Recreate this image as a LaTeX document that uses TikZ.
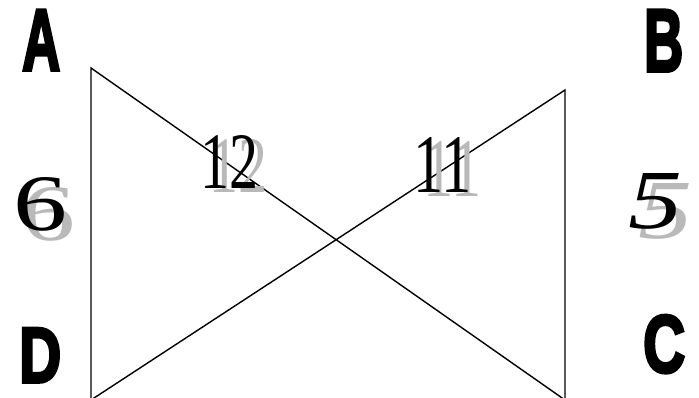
\documentclass[tikz,border=0pt]{standalone}
\usepackage{fontspec}
\setmainfont{Liberation Serif}
\newfontfamily\heavy[FakeBold=4]{Liberation Sans Bold}
\newfontfamily\numfont{Liberation Serif}
\begin{document}
\begin{tikzpicture}[x=1pt,y=-1pt,
  edge/.style={line width=1.4pt,black},
  letter/.style={inner sep=0pt,anchor=north west,font=\heavy},
  num/.style={inner sep=0pt,anchor=north west,font=\numfont},
  shadow/.style={num,text=gray!55}]
\useasboundingbox (0,0) rectangle (699,397);
\fill[white] (0,0) rectangle (699,397);
\coordinate (A) at (91,68);
\coordinate (D) at (91,400);
\coordinate (B) at (565,90);
\coordinate (C) at (565,400);
\draw[edge] (D) -- (A) -- (C) -- (B) -- (D);
% letters
\node[letter] (la) at (22,10) {\resizebox{38pt}{60pt}{A}};
\node[letter] (lb) at (644,10) {\resizebox{39pt}{61pt}{B}};
\node[letter] (ld) at (19,328) {\resizebox{42pt}{54pt}{D}};
\node[letter] (lc) at (643,315) {\resizebox{42pt}{57pt}{C}};
% numbers with shadows
\node[shadow] (s6) at (21,187) {\resizebox{54pt}{53pt}{6}};
\node[num] (n6) at (13,177) {\resizebox{54pt}{53pt}{6}};
\node[shadow] (s5) at (638,183) {\resizebox{54pt}{55pt}{\itshape 5}};
\node[num] (n5) at (628,173) {\resizebox{54pt}{55pt}{\itshape 5}};
\node[shadow] (s12) at (209,139) {\resizebox{58pt}{53pt}{12}};
\node[num] (n12) at (200,135) {\resizebox{58pt}{53pt}{12}};
\node[shadow] (s11) at (423,141) {\resizebox{58pt}{55pt}{11}};
\node[num] (n11) at (413,137) {\resizebox{58pt}{55pt}{11}};
\end{tikzpicture}
\end{document}
